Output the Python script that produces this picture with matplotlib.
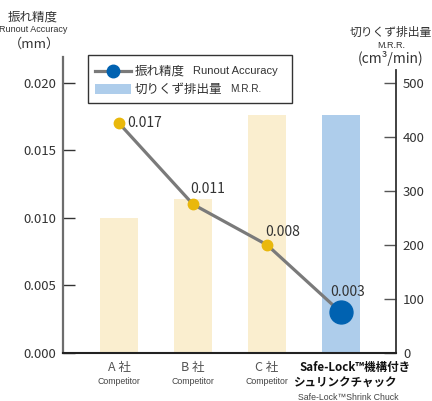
import matplotlib
matplotlib.use('Agg')
import matplotlib.pyplot as plt
from matplotlib.patches import Rectangle
from matplotlib.lines import Line2D

plt.rcParams['font.family'] = ['Noto Sans CJK JP', 'DejaVu Sans']
EN = ['Liberation Sans', 'DejaVu Sans']

# data
makers = ['A 社', 'B 社', 'C 社', 'Safe-Lock™機構付き']
makers_line2 = ['', '', '', 'シュリンクチャック']
makers_en = ['Competitor', 'Competitor', 'Competitor', 'Safe-Lock™Shrink Chuck']
runout = [0.017, 0.011, 0.008, 0.003]
mrr = [250, 285, 440, 440]
left_ticks = [0.000, 0.005, 0.010, 0.015, 0.020]
right_ticks = [0, 100, 200, 300, 400, 500]
legend_jp = ['振れ精度', '切りくず排出量']
legend_en = ['Runout Accuracy', 'M.R.R.']

GOLD = '#E9B80C'
BLUE = '#0062B1'
BEIGE = '#FAEECF'
LIGHTBLUE = '#AECDEB'
TXT = '#333333'

W, H = 432, 401


def fx(px):
    return px / W


def fy(py):
    return 1 - py / H


fig = plt.figure(figsize=(W / 100, H / 100), dpi=100)
ax = fig.add_axes([fx(63), fy(353), (396 - 63) / W, (353 - 57) / H])
ax2 = ax.twinx()

x = list(range(len(makers)))

# bars (right axis)
ax2.bar(x, mrr, width=0.515, color=[BEIGE] * 3 + [LIGHTBLUE], zorder=1)
ax2.set_ylim(0, 548)
ax2.set_yticks(right_ticks)
ax2.spines['right'].set_bounds(0, 524)

# runout line (left axis, drawn on top)
ax.set_zorder(ax2.get_zorder() + 1)
ax.patch.set_visible(False)
ax.plot(x, runout, color='#7a7a7a', lw=2.3, zorder=2)
ax.plot(x[:3], runout[:3], 'o', ms=7.5, color=GOLD, zorder=3)
ax.plot(x[3:], runout[3:], 'o', ms=16.5, color=BLUE, zorder=3)
ax.set_ylim(0, 0.0219)
ax.set_yticks(left_ticks)
ax.set_yticklabels(['%.3f' % t for t in left_ticks])

# value labels
offsets = [(8, 0), (-3, 15), (-2, 13), (-11, 20)]
for xi, v, (dx, dy) in zip(x, runout, offsets):
    ax.annotate('%.3f' % v, (xi, v), xytext=(dx, dy), textcoords='offset pixels',
                ha='left', va='center', fontsize=10, color=TXT)

ax.set_xlim(-0.757, 3.743)
ax.set_xticks([])

for a in (ax, ax2):
    a.spines['top'].set_visible(False)
    a.tick_params(axis='y', direction='in', length=8.5, width=1, labelsize=9.5,
                  labelcolor=TXT, pad=5)
ax.spines['right'].set_visible(False)
ax2.spines['left'].set_visible(False)
ax2.spines['bottom'].set_visible(False)
ax.spines['left'].set_color('#6d6d6d')
ax.spines['left'].set_linewidth(1.6)
ax.spines['bottom'].set_color('#222222')
ax.spines['bottom'].set_linewidth(1.5)
ax2.spines['right'].set_color('#333333')
ax2.spines['right'].set_linewidth(1.3)
ax.tick_params(axis='y', color='#333333')
ax2.tick_params(axis='y', color='#555555')

# category labels under the axis
for i, (jp, jp2, en) in enumerate(zip(makers, makers_line2, makers_en)):
    last = i == len(makers) - 1
    ax.annotate(jp, (i, 0), xycoords=('data', 'axes fraction'),
                xytext=(14 if last else 0, -14), textcoords='offset pixels',
                ha='center', va='center',
                fontsize=8.3 if last else 9, color='#111111' if last else '#555555',
                fontweight='bold' if last else 'normal')
    if jp2:
        ax.annotate(jp2, (i, 0), xycoords=('data', 'axes fraction'),
                    xytext=(4, -29), textcoords='offset pixels', ha='center', va='center',
                    fontsize=8.3, color='#111111', fontweight='bold')
    ax.annotate(en, (i, 0), xycoords=('data', 'axes fraction'),
                xytext=(7 if last else 0, -44 if last else -29), textcoords='offset pixels',
                ha='center', va='center', fontsize=6.3, color='#444444', family=EN)

# axis titles
fig.text(fx(33), fy(17), '振れ精度', ha='center', va='center', fontsize=9, color=TXT)
fig.text(fx(33), fy(30), 'Runout Accuracy', ha='center', va='center', fontsize=6.5,
         color=TXT, family=EN)
fig.text(fx(34), fy(44), '（mm）', ha='center', va='center', fontsize=9.5, color=TXT)
fig.text(fx(391), fy(32), '切りくず排出量', ha='center', va='center', fontsize=8.5, color=TXT)
fig.text(fx(391), fy(45), 'M.R.R.', ha='center', va='center', fontsize=6.5,
         color=TXT, family=EN)
fig.text(fx(391), fy(58), '(cm³/min)', ha='center', va='center', fontsize=10, color=TXT)

# legend, drawn by hand so the mixed font sizes line up
fig.patches.append(Rectangle((fx(88), fy(103)), (292 - 88) / W, (103 - 55) / H,
                             transform=fig.transFigure, facecolor='white',
                             edgecolor='#333333', lw=1.0, zorder=10))
fig.lines.append(Line2D([fx(95), fx(131)], [fy(71), fy(71)], transform=fig.transFigure,
                        color='#7a7a7a', lw=2.3, zorder=11))
fig.lines.append(Line2D([fx(113)], [fy(71)], transform=fig.transFigure, marker='o',
                        ms=9, color=BLUE, zorder=12))
fig.patches.append(Rectangle((fx(95), fy(94)), 36 / W, 10 / H, transform=fig.transFigure,
                             facecolor=LIGHTBLUE, edgecolor='none', zorder=11))
en_x = [193, 230]
for row, (jp, en, ex) in enumerate(zip(legend_jp, legend_en, en_x)):
    yy = 71 + 18 * row
    fig.text(fx(135), fy(yy), jp, ha='left', va='center', fontsize=9, color=TXT, zorder=12)
    fig.text(fx(ex), fy(yy), en, ha='left', va='center', fontsize=8 if row == 0 else 7.2,
             color=TXT, family=EN, zorder=12)

fig.savefig('out.png', dpi=100)
